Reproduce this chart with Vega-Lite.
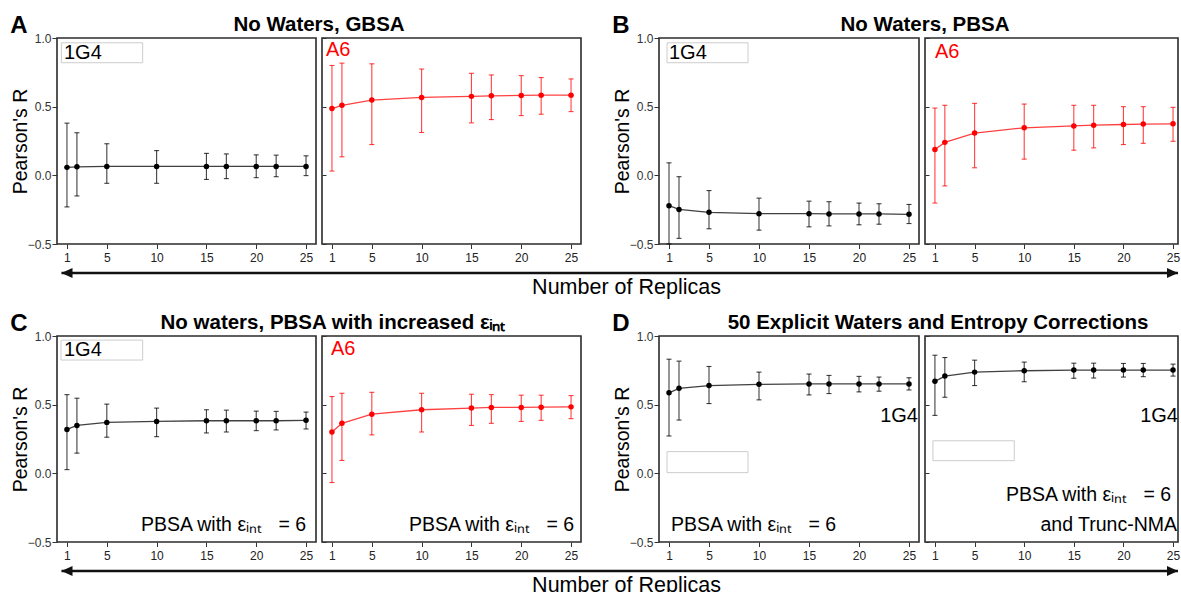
{
"$schema": "https://vega.github.io/schema/vega-lite/v6.json",
"padding": {"left": 9, "top": 13, "right": 0, "bottom": 0},
"background": "white",
"config": {
  "font": "Liberation Sans",
  "view": {"stroke": "#2b2b2b", "strokeWidth": 1.6},
  "axis": {"grid": false, "domain": false, "minExtent": 0},
  "title": {"color": "#000000", "font": "Liberation Sans"}
},
"datasets": {
  "series": [
    {"panel":"A1","strain":"1G4","x":1,"r":0.058,"lo":-0.23,"hi":0.38},
    {"panel":"A1","strain":"1G4","x":2,"r":0.062,"lo":-0.15,"hi":0.31},
    {"panel":"A1","strain":"1G4","x":5,"r":0.065,"lo":-0.058,"hi":0.23},
    {"panel":"A1","strain":"1G4","x":10,"r":0.065,"lo":-0.058,"hi":0.18},
    {"panel":"A1","strain":"1G4","x":15,"r":0.065,"lo":-0.03,"hi":0.16},
    {"panel":"A1","strain":"1G4","x":17,"r":0.065,"lo":-0.024,"hi":0.156},
    {"panel":"A1","strain":"1G4","x":20,"r":0.065,"lo":-0.017,"hi":0.149},
    {"panel":"A1","strain":"1G4","x":22,"r":0.065,"lo":-0.01,"hi":0.147},
    {"panel":"A1","strain":"1G4","x":25,"r":0.065,"lo":-0.002,"hi":0.142},
    {"panel":"A2","strain":"A6","x":1,"r":0.486,"lo":0.031,"hi":0.8},
    {"panel":"A2","strain":"A6","x":2,"r":0.51,"lo":0.135,"hi":0.817},
    {"panel":"A2","strain":"A6","x":5,"r":0.548,"lo":0.224,"hi":0.812},
    {"panel":"A2","strain":"A6","x":10,"r":0.567,"lo":0.312,"hi":0.774},
    {"panel":"A2","strain":"A6","x":15,"r":0.575,"lo":0.382,"hi":0.743},
    {"panel":"A2","strain":"A6","x":17,"r":0.579,"lo":0.406,"hi":0.731},
    {"panel":"A2","strain":"A6","x":20,"r":0.582,"lo":0.435,"hi":0.726},
    {"panel":"A2","strain":"A6","x":22,"r":0.584,"lo":0.445,"hi":0.712},
    {"panel":"A2","strain":"A6","x":25,"r":0.584,"lo":0.464,"hi":0.702},
    {"panel":"B1","strain":"1G4","x":1,"r":-0.221,"lo":-0.5,"hi":0.091},
    {"panel":"B1","strain":"1G4","x":2,"r":-0.248,"lo":-0.459,"hi":-0.01},
    {"panel":"B1","strain":"1G4","x":5,"r":-0.269,"lo":-0.389,"hi":-0.111},
    {"panel":"B1","strain":"1G4","x":10,"r":-0.279,"lo":-0.399,"hi":-0.166},
    {"panel":"B1","strain":"1G4","x":15,"r":-0.279,"lo":-0.375,"hi":-0.188},
    {"panel":"B1","strain":"1G4","x":17,"r":-0.281,"lo":-0.368,"hi":-0.192},
    {"panel":"B1","strain":"1G4","x":20,"r":-0.281,"lo":-0.36,"hi":-0.202},
    {"panel":"B1","strain":"1G4","x":22,"r":-0.281,"lo":-0.356,"hi":-0.207},
    {"panel":"B1","strain":"1G4","x":25,"r":-0.284,"lo":-0.351,"hi":-0.212},
    {"panel":"B2","strain":"A6","x":1,"r":0.188,"lo":-0.202,"hi":0.49},
    {"panel":"B2","strain":"A6","x":2,"r":0.24,"lo":-0.077,"hi":0.51},
    {"panel":"B2","strain":"A6","x":5,"r":0.308,"lo":0.055,"hi":0.524},
    {"panel":"B2","strain":"A6","x":10,"r":0.346,"lo":0.118,"hi":0.519},
    {"panel":"B2","strain":"A6","x":15,"r":0.36,"lo":0.183,"hi":0.51},
    {"panel":"B2","strain":"A6","x":17,"r":0.365,"lo":0.2,"hi":0.51},
    {"panel":"B2","strain":"A6","x":20,"r":0.37,"lo":0.224,"hi":0.5},
    {"panel":"B2","strain":"A6","x":22,"r":0.373,"lo":0.233,"hi":0.5},
    {"panel":"B2","strain":"A6","x":25,"r":0.375,"lo":0.248,"hi":0.495},
    {"panel":"C1","strain":"1G4","x":1,"r":0.32,"lo":0.027,"hi":0.573},
    {"panel":"C1","strain":"1G4","x":2,"r":0.349,"lo":0.147,"hi":0.547},
    {"panel":"C1","strain":"1G4","x":5,"r":0.371,"lo":0.263,"hi":0.504},
    {"panel":"C1","strain":"1G4","x":10,"r":0.378,"lo":0.267,"hi":0.475},
    {"panel":"C1","strain":"1G4","x":15,"r":0.383,"lo":0.294,"hi":0.463},
    {"panel":"C1","strain":"1G4","x":17,"r":0.383,"lo":0.301,"hi":0.46},
    {"panel":"C1","strain":"1G4","x":20,"r":0.383,"lo":0.311,"hi":0.453},
    {"panel":"C1","strain":"1G4","x":22,"r":0.383,"lo":0.316,"hi":0.451},
    {"panel":"C1","strain":"1G4","x":25,"r":0.386,"lo":0.323,"hi":0.446},
    {"panel":"C2","strain":"A6","x":1,"r":0.301,"lo":-0.067,"hi":0.559},
    {"panel":"C2","strain":"A6","x":2,"r":0.364,"lo":0.094,"hi":0.583},
    {"panel":"C2","strain":"A6","x":5,"r":0.431,"lo":0.28,"hi":0.59},
    {"panel":"C2","strain":"A6","x":10,"r":0.463,"lo":0.301,"hi":0.583},
    {"panel":"C2","strain":"A6","x":15,"r":0.475,"lo":0.349,"hi":0.576},
    {"panel":"C2","strain":"A6","x":17,"r":0.48,"lo":0.364,"hi":0.573},
    {"panel":"C2","strain":"A6","x":20,"r":0.48,"lo":0.378,"hi":0.569},
    {"panel":"C2","strain":"A6","x":22,"r":0.482,"lo":0.386,"hi":0.569},
    {"panel":"C2","strain":"A6","x":25,"r":0.484,"lo":0.398,"hi":0.566},
    {"panel":"D1","strain":"1G4","x":1,"r":0.586,"lo":0.272,"hi":0.831},
    {"panel":"D1","strain":"1G4","x":2,"r":0.619,"lo":0.388,"hi":0.817},
    {"panel":"D1","strain":"1G4","x":5,"r":0.639,"lo":0.508,"hi":0.778},
    {"panel":"D1","strain":"1G4","x":10,"r":0.648,"lo":0.535,"hi":0.737},
    {"panel":"D1","strain":"1G4","x":15,"r":0.651,"lo":0.571,"hi":0.723},
    {"panel":"D1","strain":"1G4","x":17,"r":0.651,"lo":0.581,"hi":0.713},
    {"panel":"D1","strain":"1G4","x":20,"r":0.651,"lo":0.593,"hi":0.706},
    {"panel":"D1","strain":"1G4","x":22,"r":0.651,"lo":0.598,"hi":0.701},
    {"panel":"D1","strain":"1G4","x":25,"r":0.651,"lo":0.607,"hi":0.696},
    {"panel":"D2","strain":"1G4","x":1,"r":0.67,"lo":0.422,"hi":0.86},
    {"panel":"D2","strain":"1G4","x":2,"r":0.708,"lo":0.554,"hi":0.843},
    {"panel":"D2","strain":"1G4","x":5,"r":0.737,"lo":0.639,"hi":0.824},
    {"panel":"D2","strain":"1G4","x":10,"r":0.747,"lo":0.667,"hi":0.81},
    {"panel":"D2","strain":"1G4","x":15,"r":0.752,"lo":0.692,"hi":0.802},
    {"panel":"D2","strain":"1G4","x":17,"r":0.752,"lo":0.694,"hi":0.802},
    {"panel":"D2","strain":"1G4","x":20,"r":0.752,"lo":0.701,"hi":0.8},
    {"panel":"D2","strain":"1G4","x":22,"r":0.752,"lo":0.704,"hi":0.8},
    {"panel":"D2","strain":"1G4","x":25,"r":0.752,"lo":0.708,"hi":0.795}
  ],
  "tags": [
    {"panel":"A1","strain":"1G4","text":"1G4","x":0.7,"y":0.894},
    {"panel":"A2","strain":"A6","text":"A6","x":0.4,"y":0.916},
    {"panel":"B1","strain":"1G4","text":"1G4","x":1.0,"y":0.894},
    {"panel":"B2","strain":"A6","text":"A6","x":1.0,"y":0.9},
    {"panel":"C1","strain":"1G4","text":"1G4","x":0.7,"y":0.898},
    {"panel":"C2","strain":"A6","text":"A6","x":0.9,"y":0.906},
    {"panel":"D1","strain":"1G4","text":"1G4","x":25.9,"y":0.414},
    {"panel":"D2","strain":"1G4","text":"1G4","x":25.5,"y":0.414}
  ],
  "methods": [
    {"panel":"C1","text":"PBSA with εᵢₙₜ\u00a0\u00a0 = 6","x":25,"y":-0.373},
    {"panel":"C2","text":"PBSA with εᵢₙₜ\u00a0\u00a0 = 6","x":25.3,"y":-0.373},
    {"panel":"D1","text":"PBSA with εᵢₙₜ\u00a0\u00a0 = 6","x":1.2,"y":-0.373},
    {"panel":"D2","text":"PBSA with εᵢₙₜ\u00a0\u00a0 = 6","x":24.8,"y":-0.155},
    {"panel":"D2","text":"and Trunc-NMA","x":25.4,"y":-0.373}
  ],
  "boxes": [
    {"panel":"A1","x1":0.44,"x2":8.6,"y1":0.82,"y2":0.965},
    {"panel":"B1","x1":0.8,"x2":8.9,"y1":0.82,"y2":0.965},
    {"panel":"C1","x1":0.4,"x2":8.6,"y1":0.825,"y2":0.97},
    {"panel":"D1","x1":0.8,"x2":8.9,"y1":0.005,"y2":0.158},
    {"panel":"D2","x1":0.8,"x2":9.0,"y1":0.092,"y2":0.237}
  ],
  "arrow": [
    {"part":"shaft","x":0.004,"x2":1,"y":0.5},
    {"part":"left","x":0.004,"y":0.5},
    {"part":"right","x":1,"y":0.5}
  ]
},
"spacing": 13,
"vconcat": [
 {"spacing": 3, "vconcat": [
  {"spacing": 6, "bounds": "flush", "hconcat": [
   {"width": 259, "height": 206,
    "title": {"text": "A", "anchor": "start", "frame": "bounds", "fontSize": 24, "fontWeight": "bold", "baseline": "alphabetic", "offset": -25},
    "layer": [
     {"data": {"name": "series"}, "transform": [{"filter": "datum.panel === 'A1'"}], "mark": {"type": "line", "strokeWidth": 1.3, "opacity": 0.75},
      "encoding": {
       "x": {"field": "x", "type": "quantitative", "scale": {"domain": [0, 26], "nice": false, "zero": false}, "axis": {"values": [1,3,5,7.5,10,12.5,15,17.5,20,22.5,25], "labelExpr": "indexof([1,5,10,15,20,25], datum.value) >= 0 ? datum.label : ''", "title": null, "tickSize": 4.5, "labelPadding": 4, "labelFontSize": 12, "labelColor": "#222222", "tickColor": "#333333", "labelOverlap": false, "labelFlush": false}},
       "y": {"field": "r", "type": "quantitative", "scale": {"domain": [-0.5, 1], "nice": false, "zero": false}, "axis": {"values": [-0.5, 0, 0.5, 1], "format": ".1f", "title": "Pearson's R", "titleFontSize": 19.5, "titleFontWeight": "normal", "titleColor": "#000000", "titlePadding": -3, "tickSize": 5, "labelPadding": 1, "labelFontSize": 12, "labelColor": "#333333", "tickColor": "#333333", "labelFlush": false, "labelOverlap": false}},
       "color": {"field": "strain", "type": "nominal", "scale": {"domain": ["1G4", "A6"], "range": ["#000000", "#ff0000"]}, "legend": null}}},
     {"data": {"name": "series"}, "transform": [{"filter": "datum.panel === 'A1'"}], "mark": {"type": "errorbar", "ticks": true, "size": 5, "thickness": 1.1, "opacity": 0.75},
      "encoding": {"x": {"field": "x", "type": "quantitative"}, "y": {"field": "lo", "type": "quantitative", "title": "Pearson's R"}, "y2": {"field": "hi"}, "color": {"field": "strain", "type": "nominal", "legend": null}}},
     {"data": {"name": "series"}, "transform": [{"filter": "datum.panel === 'A1'"}], "mark": {"type": "point", "filled": true, "size": 30, "opacity": 1},
      "encoding": {"x": {"field": "x", "type": "quantitative"}, "y": {"field": "r", "type": "quantitative"}, "color": {"field": "strain", "type": "nominal", "legend": null}}},
     {"data": {"name": "boxes"}, "transform": [{"filter": "datum.panel === 'A1'"}], "mark": {"type": "rect", "filled": false, "color": "#cccccc", "strokeWidth": 1},
      "encoding": {"x": {"field": "x1", "type": "quantitative"}, "x2": {"field": "x2"}, "y": {"field": "y1", "type": "quantitative"}, "y2": {"field": "y2"}}},
     {"data": {"name": "tags"}, "transform": [{"filter": "datum.panel === 'A1'"}], "mark": {"type": "text", "align": "left", "baseline": "middle", "fontSize": 20},
      "encoding": {"x": {"field": "x", "type": "quantitative"}, "y": {"field": "y", "type": "quantitative"}, "text": {"field": "text"}, "color": {"field": "strain", "type": "nominal", "legend": null}}}
    ]},
   {"width": 259, "height": 206,
    "title": {"text": "No Waters, GBSA", "anchor": "start", "align": "center", "frame": "group", "fontSize": 20.5, "fontWeight": "bold", "baseline": "alphabetic", "offset": -14, "dx": -3},
    "layer": [
     {"data": {"name": "series"}, "transform": [{"filter": "datum.panel === 'A2'"}], "mark": {"type": "line", "strokeWidth": 1.3, "opacity": 0.75},
      "encoding": {
       "x": {"field": "x", "type": "quantitative", "scale": {"domain": [0, 26], "nice": false, "zero": false}, "axis": {"values": [1,3,5,7.5,10,12.5,15,17.5,20,22.5,25], "labelExpr": "indexof([1,5,10,15,20,25], datum.value) >= 0 ? datum.label : ''", "title": null, "tickSize": 4.5, "labelPadding": 4, "labelFontSize": 12, "labelColor": "#222222", "tickColor": "#333333", "labelOverlap": false, "labelFlush": false}},
       "y": {"field": "r", "type": "quantitative", "scale": {"domain": [-0.5, 1], "nice": false, "zero": false}, "axis": {"values": [-0.5, 0, 0.5, 1], "labels": false, "title": null, "tickSize": -4, "tickColor": "#333333"}},
       "color": {"field": "strain", "type": "nominal", "scale": {"domain": ["1G4", "A6"], "range": ["#000000", "#ff0000"]}, "legend": null}}},
     {"data": {"name": "series"}, "transform": [{"filter": "datum.panel === 'A2'"}], "mark": {"type": "errorbar", "ticks": true, "size": 5, "thickness": 1.1, "opacity": 0.75},
      "encoding": {"x": {"field": "x", "type": "quantitative"}, "y": {"field": "lo", "type": "quantitative"}, "y2": {"field": "hi"}, "color": {"field": "strain", "type": "nominal", "legend": null}}},
     {"data": {"name": "series"}, "transform": [{"filter": "datum.panel === 'A2'"}], "mark": {"type": "point", "filled": true, "size": 30, "opacity": 1},
      "encoding": {"x": {"field": "x", "type": "quantitative"}, "y": {"field": "r", "type": "quantitative"}, "color": {"field": "strain", "type": "nominal", "legend": null}}},
     {"data": {"name": "tags"}, "transform": [{"filter": "datum.panel === 'A2'"}], "mark": {"type": "text", "align": "left", "baseline": "middle", "fontSize": 20},
      "encoding": {"x": {"field": "x", "type": "quantitative"}, "y": {"field": "y", "type": "quantitative"}, "text": {"field": "text"}, "color": {"field": "strain", "type": "nominal", "legend": null}}}
    ]},
   {"width": 66, "height": 206, "view": {"stroke": null}, "data": {"values": [{}]}, "mark": {"type": "point", "opacity": 0}},
   {"width": 260, "height": 206,
    "title": {"text": "B", "anchor": "start", "frame": "bounds", "fontSize": 24, "fontWeight": "bold", "baseline": "alphabetic", "offset": -25},
    "layer": [
     {"data": {"name": "series"}, "transform": [{"filter": "datum.panel === 'B1'"}], "mark": {"type": "line", "strokeWidth": 1.3, "opacity": 0.75},
      "encoding": {
       "x": {"field": "x", "type": "quantitative", "scale": {"domain": [0, 26], "nice": false, "zero": false}, "axis": {"values": [1,3,5,7.5,10,12.5,15,17.5,20,22.5,25], "labelExpr": "indexof([1,5,10,15,20,25], datum.value) >= 0 ? datum.label : ''", "title": null, "tickSize": 4.5, "labelPadding": 4, "labelFontSize": 12, "labelColor": "#222222", "tickColor": "#333333", "labelOverlap": false, "labelFlush": false}},
       "y": {"field": "r", "type": "quantitative", "scale": {"domain": [-0.5, 1], "nice": false, "zero": false}, "axis": {"values": [-0.5, 0, 0.5, 1], "format": ".1f", "title": "Pearson's R", "titleFontSize": 19.5, "titleFontWeight": "normal", "titleColor": "#000000", "titlePadding": -3, "tickSize": 5, "labelPadding": 1, "labelFontSize": 12, "labelColor": "#333333", "tickColor": "#333333", "labelFlush": false, "labelOverlap": false}},
       "color": {"field": "strain", "type": "nominal", "scale": {"domain": ["1G4", "A6"], "range": ["#000000", "#ff0000"]}, "legend": null}}},
     {"data": {"name": "series"}, "transform": [{"filter": "datum.panel === 'B1'"}], "mark": {"type": "errorbar", "ticks": true, "size": 5, "thickness": 1.1, "opacity": 0.75},
      "encoding": {"x": {"field": "x", "type": "quantitative"}, "y": {"field": "lo", "type": "quantitative", "title": "Pearson's R"}, "y2": {"field": "hi"}, "color": {"field": "strain", "type": "nominal", "legend": null}}},
     {"data": {"name": "series"}, "transform": [{"filter": "datum.panel === 'B1'"}], "mark": {"type": "point", "filled": true, "size": 30, "opacity": 1},
      "encoding": {"x": {"field": "x", "type": "quantitative"}, "y": {"field": "r", "type": "quantitative"}, "color": {"field": "strain", "type": "nominal", "legend": null}}},
     {"data": {"name": "boxes"}, "transform": [{"filter": "datum.panel === 'B1'"}], "mark": {"type": "rect", "filled": false, "color": "#cccccc", "strokeWidth": 1},
      "encoding": {"x": {"field": "x1", "type": "quantitative"}, "x2": {"field": "x2"}, "y": {"field": "y1", "type": "quantitative"}, "y2": {"field": "y2"}}},
     {"data": {"name": "tags"}, "transform": [{"filter": "datum.panel === 'B1'"}], "mark": {"type": "text", "align": "left", "baseline": "middle", "fontSize": 20},
      "encoding": {"x": {"field": "x", "type": "quantitative"}, "y": {"field": "y", "type": "quantitative"}, "text": {"field": "text"}, "color": {"field": "strain", "type": "nominal", "legend": null}}}
    ]},
   {"width": 253, "height": 206,
    "title": {"text": "No Waters, PBSA", "anchor": "start", "align": "center", "frame": "group", "fontSize": 20.5, "fontWeight": "bold", "baseline": "alphabetic", "offset": -14},
    "layer": [
     {"data": {"name": "series"}, "transform": [{"filter": "datum.panel === 'B2'"}], "mark": {"type": "line", "strokeWidth": 1.3, "opacity": 0.75},
      "encoding": {
       "x": {"field": "x", "type": "quantitative", "scale": {"domain": [0, 25.5], "nice": false, "zero": false}, "axis": {"values": [1,3,5,7.5,10,12.5,15,17.5,20,22.5,25], "labelExpr": "indexof([1,5,10,15,20,25], datum.value) >= 0 ? datum.label : ''", "title": null, "tickSize": 4.5, "labelPadding": 4, "labelFontSize": 12, "labelColor": "#222222", "tickColor": "#333333", "labelOverlap": false, "labelFlush": false}},
       "y": {"field": "r", "type": "quantitative", "scale": {"domain": [-0.5, 1], "nice": false, "zero": false}, "axis": {"values": [-0.5, 0, 0.5, 1], "labels": false, "title": null, "tickSize": -4, "tickColor": "#333333"}},
       "color": {"field": "strain", "type": "nominal", "scale": {"domain": ["1G4", "A6"], "range": ["#000000", "#ff0000"]}, "legend": null}}},
     {"data": {"name": "series"}, "transform": [{"filter": "datum.panel === 'B2'"}], "mark": {"type": "errorbar", "ticks": true, "size": 5, "thickness": 1.1, "opacity": 0.75},
      "encoding": {"x": {"field": "x", "type": "quantitative"}, "y": {"field": "lo", "type": "quantitative"}, "y2": {"field": "hi"}, "color": {"field": "strain", "type": "nominal", "legend": null}}},
     {"data": {"name": "series"}, "transform": [{"filter": "datum.panel === 'B2'"}], "mark": {"type": "point", "filled": true, "size": 30, "opacity": 1},
      "encoding": {"x": {"field": "x", "type": "quantitative"}, "y": {"field": "r", "type": "quantitative"}, "color": {"field": "strain", "type": "nominal", "legend": null}}},
     {"data": {"name": "tags"}, "transform": [{"filter": "datum.panel === 'B2'"}], "mark": {"type": "text", "align": "left", "baseline": "middle", "fontSize": 20},
      "encoding": {"x": {"field": "x", "type": "quantitative"}, "y": {"field": "y", "type": "quantitative"}, "text": {"field": "text"}, "color": {"field": "strain", "type": "nominal", "legend": null}}}
    ]}
  ]},
  {"width": 1121, "height": 10, "view": {"stroke": null}, "data": {"name": "arrow"},
   "layer": [
    {"transform": [{"filter": "datum.part === 'shaft'"}], "mark": {"type": "rule", "strokeWidth": 2.6, "color": "#111111"},
     "encoding": {
      "x": {"field": "x", "type": "quantitative", "scale": {"domain": [0, 1], "nice": false, "zero": false}, "axis": {"title": "Number of Replicas", "titleFontSize": 21.5, "titleFontWeight": "normal", "titleColor": "#000000", "titlePadding": -2, "titleX": 569, "labels": false, "ticks": false, "domain": false}},
      "x2": {"field": "x2"},
      "y": {"field": "y", "type": "quantitative", "scale": {"domain": [0, 1], "nice": false, "zero": false}, "axis": {"values": [0], "labelExpr": "'-0.5'", "title": "I", "titleFontSize": 19.5, "titleFontWeight": "normal", "titlePadding": -3, "tickSize": 5, "labelPadding": 1, "labelFontSize": 12, "tickColor": "transparent", "labelColor": "transparent", "titleColor": "transparent", "labelFlush": false}}}},
    {"transform": [{"filter": "datum.part !== 'shaft'"}], "mark": {"type": "point", "filled": true, "size": 121, "opacity": 1, "color": "#111111"},
     "encoding": {
      "x": {"field": "x", "type": "quantitative"},
      "y": {"field": "y", "type": "quantitative"},
      "shape": {"field": "part", "type": "nominal", "scale": {"domain": ["left", "right"], "range": ["M0,0L2,-0.9L2,0.9Z", "M0,0L-2,-0.9L-2,0.9Z"]}, "legend": null}}}
   ]}
 ]},
 {"spacing": 3, "vconcat": [
  {"spacing": 6, "bounds": "flush", "hconcat": [
   {"width": 259, "height": 206,
    "title": {"text": "C", "anchor": "start", "frame": "bounds", "fontSize": 24, "fontWeight": "bold", "baseline": "alphabetic", "offset": -25},
    "layer": [
     {"data": {"name": "series"}, "transform": [{"filter": "datum.panel === 'C1'"}], "mark": {"type": "line", "strokeWidth": 1.3, "opacity": 0.75},
      "encoding": {
       "x": {"field": "x", "type": "quantitative", "scale": {"domain": [0, 26], "nice": false, "zero": false}, "axis": {"values": [1,3,5,7.5,10,12.5,15,17.5,20,22.5,25], "labelExpr": "indexof([1,5,10,15,20,25], datum.value) >= 0 ? datum.label : ''", "title": null, "tickSize": 4.5, "labelPadding": 4, "labelFontSize": 12, "labelColor": "#222222", "tickColor": "#333333", "labelOverlap": false, "labelFlush": false}},
       "y": {"field": "r", "type": "quantitative", "scale": {"domain": [-0.5, 1], "nice": false, "zero": false}, "axis": {"values": [-0.5, 0, 0.5, 1], "format": ".1f", "title": "Pearson's R", "titleFontSize": 19.5, "titleFontWeight": "normal", "titleColor": "#000000", "titlePadding": -3, "tickSize": 5, "labelPadding": 1, "labelFontSize": 12, "labelColor": "#333333", "tickColor": "#333333", "labelFlush": false, "labelOverlap": false}},
       "color": {"field": "strain", "type": "nominal", "scale": {"domain": ["1G4", "A6"], "range": ["#000000", "#ff0000"]}, "legend": null}}},
     {"data": {"name": "series"}, "transform": [{"filter": "datum.panel === 'C1'"}], "mark": {"type": "errorbar", "ticks": true, "size": 5, "thickness": 1.1, "opacity": 0.75},
      "encoding": {"x": {"field": "x", "type": "quantitative"}, "y": {"field": "lo", "type": "quantitative", "title": "Pearson's R"}, "y2": {"field": "hi"}, "color": {"field": "strain", "type": "nominal", "legend": null}}},
     {"data": {"name": "series"}, "transform": [{"filter": "datum.panel === 'C1'"}], "mark": {"type": "point", "filled": true, "size": 30, "opacity": 1},
      "encoding": {"x": {"field": "x", "type": "quantitative"}, "y": {"field": "r", "type": "quantitative"}, "color": {"field": "strain", "type": "nominal", "legend": null}}},
     {"data": {"name": "boxes"}, "transform": [{"filter": "datum.panel === 'C1'"}], "mark": {"type": "rect", "filled": false, "color": "#cccccc", "strokeWidth": 1},
      "encoding": {"x": {"field": "x1", "type": "quantitative"}, "x2": {"field": "x2"}, "y": {"field": "y1", "type": "quantitative"}, "y2": {"field": "y2"}}},
     {"data": {"name": "tags"}, "transform": [{"filter": "datum.panel === 'C1'"}], "mark": {"type": "text", "align": "left", "baseline": "middle", "fontSize": 20},
      "encoding": {"x": {"field": "x", "type": "quantitative"}, "y": {"field": "y", "type": "quantitative"}, "text": {"field": "text"}, "color": {"field": "strain", "type": "nominal", "legend": null}}},
     {"data": {"name": "methods"}, "transform": [{"filter": "datum.panel === 'C1'"}], "mark": {"type": "text", "align": "right", "baseline": "middle", "fontSize": 19.5, "color": "#000000"},
      "encoding": {"x": {"field": "x", "type": "quantitative"}, "y": {"field": "y", "type": "quantitative"}, "text": {"field": "text"}}}
    ]},
   {"width": 259, "height": 206,
    "title": {"text": "No waters, PBSA with increased εᵢₙₜ", "anchor": "start", "align": "center", "frame": "group", "fontSize": 20.5, "fontWeight": "bold", "baseline": "alphabetic", "offset": -14, "dx": 11},
    "layer": [
     {"data": {"name": "series"}, "transform": [{"filter": "datum.panel === 'C2'"}], "mark": {"type": "line", "strokeWidth": 1.3, "opacity": 0.75},
      "encoding": {
       "x": {"field": "x", "type": "quantitative", "scale": {"domain": [0, 26], "nice": false, "zero": false}, "axis": {"values": [1,3,5,7.5,10,12.5,15,17.5,20,22.5,25], "labelExpr": "indexof([1,5,10,15,20,25], datum.value) >= 0 ? datum.label : ''", "title": null, "tickSize": 4.5, "labelPadding": 4, "labelFontSize": 12, "labelColor": "#222222", "tickColor": "#333333", "labelOverlap": false, "labelFlush": false}},
       "y": {"field": "r", "type": "quantitative", "scale": {"domain": [-0.5, 1], "nice": false, "zero": false}, "axis": {"values": [-0.5, 0, 0.5, 1], "labels": false, "title": null, "tickSize": -4, "tickColor": "#333333"}},
       "color": {"field": "strain", "type": "nominal", "scale": {"domain": ["1G4", "A6"], "range": ["#000000", "#ff0000"]}, "legend": null}}},
     {"data": {"name": "series"}, "transform": [{"filter": "datum.panel === 'C2'"}], "mark": {"type": "errorbar", "ticks": true, "size": 5, "thickness": 1.1, "opacity": 0.75},
      "encoding": {"x": {"field": "x", "type": "quantitative"}, "y": {"field": "lo", "type": "quantitative"}, "y2": {"field": "hi"}, "color": {"field": "strain", "type": "nominal", "legend": null}}},
     {"data": {"name": "series"}, "transform": [{"filter": "datum.panel === 'C2'"}], "mark": {"type": "point", "filled": true, "size": 30, "opacity": 1},
      "encoding": {"x": {"field": "x", "type": "quantitative"}, "y": {"field": "r", "type": "quantitative"}, "color": {"field": "strain", "type": "nominal", "legend": null}}},
     {"data": {"name": "tags"}, "transform": [{"filter": "datum.panel === 'C2'"}], "mark": {"type": "text", "align": "left", "baseline": "middle", "fontSize": 20},
      "encoding": {"x": {"field": "x", "type": "quantitative"}, "y": {"field": "y", "type": "quantitative"}, "text": {"field": "text"}, "color": {"field": "strain", "type": "nominal", "legend": null}}},
     {"data": {"name": "methods"}, "transform": [{"filter": "datum.panel === 'C2'"}], "mark": {"type": "text", "align": "right", "baseline": "middle", "fontSize": 19.5, "color": "#000000"},
      "encoding": {"x": {"field": "x", "type": "quantitative"}, "y": {"field": "y", "type": "quantitative"}, "text": {"field": "text"}}}
    ]},
   {"width": 66, "height": 206, "view": {"stroke": null}, "data": {"values": [{}]}, "mark": {"type": "point", "opacity": 0}},
   {"width": 260, "height": 206,
    "title": {"text": "D", "anchor": "start", "frame": "bounds", "fontSize": 24, "fontWeight": "bold", "baseline": "alphabetic", "offset": -25},
    "layer": [
     {"data": {"name": "series"}, "transform": [{"filter": "datum.panel === 'D1'"}], "mark": {"type": "line", "strokeWidth": 1.3, "opacity": 0.75},
      "encoding": {
       "x": {"field": "x", "type": "quantitative", "scale": {"domain": [0, 26], "nice": false, "zero": false}, "axis": {"values": [1,3,5,7.5,10,12.5,15,17.5,20,22.5,25], "labelExpr": "indexof([1,5,10,15,20,25], datum.value) >= 0 ? datum.label : ''", "title": null, "tickSize": 4.5, "labelPadding": 4, "labelFontSize": 12, "labelColor": "#222222", "tickColor": "#333333", "labelOverlap": false, "labelFlush": false}},
       "y": {"field": "r", "type": "quantitative", "scale": {"domain": [-0.5, 1], "nice": false, "zero": false}, "axis": {"values": [-0.5, 0, 0.5, 1], "format": ".1f", "title": "Pearson's R", "titleFontSize": 19.5, "titleFontWeight": "normal", "titleColor": "#000000", "titlePadding": -3, "tickSize": 5, "labelPadding": 1, "labelFontSize": 12, "labelColor": "#333333", "tickColor": "#333333", "labelFlush": false, "labelOverlap": false}},
       "color": {"field": "strain", "type": "nominal", "scale": {"domain": ["1G4", "A6"], "range": ["#000000", "#ff0000"]}, "legend": null}}},
     {"data": {"name": "series"}, "transform": [{"filter": "datum.panel === 'D1'"}], "mark": {"type": "errorbar", "ticks": true, "size": 5, "thickness": 1.1, "opacity": 0.75},
      "encoding": {"x": {"field": "x", "type": "quantitative"}, "y": {"field": "lo", "type": "quantitative", "title": "Pearson's R"}, "y2": {"field": "hi"}, "color": {"field": "strain", "type": "nominal", "legend": null}}},
     {"data": {"name": "series"}, "transform": [{"filter": "datum.panel === 'D1'"}], "mark": {"type": "point", "filled": true, "size": 30, "opacity": 1},
      "encoding": {"x": {"field": "x", "type": "quantitative"}, "y": {"field": "r", "type": "quantitative"}, "color": {"field": "strain", "type": "nominal", "legend": null}}},
     {"data": {"name": "boxes"}, "transform": [{"filter": "datum.panel === 'D1'"}], "mark": {"type": "rect", "filled": false, "color": "#cccccc", "strokeWidth": 1},
      "encoding": {"x": {"field": "x1", "type": "quantitative"}, "x2": {"field": "x2"}, "y": {"field": "y1", "type": "quantitative"}, "y2": {"field": "y2"}}},
     {"data": {"name": "tags"}, "transform": [{"filter": "datum.panel === 'D1'"}], "mark": {"type": "text", "align": "right", "baseline": "middle", "fontSize": 20},
      "encoding": {"x": {"field": "x", "type": "quantitative"}, "y": {"field": "y", "type": "quantitative"}, "text": {"field": "text"}, "color": {"field": "strain", "type": "nominal", "legend": null}}},
     {"data": {"name": "methods"}, "transform": [{"filter": "datum.panel === 'D1'"}], "mark": {"type": "text", "align": "left", "baseline": "middle", "fontSize": 19.5, "color": "#000000"},
      "encoding": {"x": {"field": "x", "type": "quantitative"}, "y": {"field": "y", "type": "quantitative"}, "text": {"field": "text"}}}
    ]},
   {"width": 253, "height": 206,
    "title": {"text": "50 Explicit Waters and Entropy Corrections", "anchor": "start", "align": "center", "frame": "group", "fontSize": 20.5, "fontWeight": "bold", "baseline": "alphabetic", "offset": -14, "dx": 13},
    "layer": [
     {"data": {"name": "series"}, "transform": [{"filter": "datum.panel === 'D2'"}], "mark": {"type": "line", "strokeWidth": 1.3, "opacity": 0.75},
      "encoding": {
       "x": {"field": "x", "type": "quantitative", "scale": {"domain": [0, 25.5], "nice": false, "zero": false}, "axis": {"values": [1,3,5,7.5,10,12.5,15,17.5,20,22.5,25], "labelExpr": "indexof([1,5,10,15,20,25], datum.value) >= 0 ? datum.label : ''", "title": null, "tickSize": 4.5, "labelPadding": 4, "labelFontSize": 12, "labelColor": "#222222", "tickColor": "#333333", "labelOverlap": false, "labelFlush": false}},
       "y": {"field": "r", "type": "quantitative", "scale": {"domain": [-0.5, 1], "nice": false, "zero": false}, "axis": {"values": [-0.5, 0, 0.5, 1], "labels": false, "title": null, "tickSize": -4, "tickColor": "#333333"}},
       "color": {"field": "strain", "type": "nominal", "scale": {"domain": ["1G4", "A6"], "range": ["#000000", "#ff0000"]}, "legend": null}}},
     {"data": {"name": "series"}, "transform": [{"filter": "datum.panel === 'D2'"}], "mark": {"type": "errorbar", "ticks": true, "size": 5, "thickness": 1.1, "opacity": 0.75},
      "encoding": {"x": {"field": "x", "type": "quantitative"}, "y": {"field": "lo", "type": "quantitative"}, "y2": {"field": "hi"}, "color": {"field": "strain", "type": "nominal", "legend": null}}},
     {"data": {"name": "series"}, "transform": [{"filter": "datum.panel === 'D2'"}], "mark": {"type": "point", "filled": true, "size": 30, "opacity": 1},
      "encoding": {"x": {"field": "x", "type": "quantitative"}, "y": {"field": "r", "type": "quantitative"}, "color": {"field": "strain", "type": "nominal", "legend": null}}},
     {"data": {"name": "boxes"}, "transform": [{"filter": "datum.panel === 'D2'"}], "mark": {"type": "rect", "filled": false, "color": "#cccccc", "strokeWidth": 1},
      "encoding": {"x": {"field": "x1", "type": "quantitative"}, "x2": {"field": "x2"}, "y": {"field": "y1", "type": "quantitative"}, "y2": {"field": "y2"}}},
     {"data": {"name": "tags"}, "transform": [{"filter": "datum.panel === 'D2'"}], "mark": {"type": "text", "align": "right", "baseline": "middle", "fontSize": 20},
      "encoding": {"x": {"field": "x", "type": "quantitative"}, "y": {"field": "y", "type": "quantitative"}, "text": {"field": "text"}, "color": {"field": "strain", "type": "nominal", "legend": null}}},
     {"data": {"name": "methods"}, "transform": [{"filter": "datum.panel === 'D2'"}], "mark": {"type": "text", "align": "right", "baseline": "middle", "fontSize": 19.5, "color": "#000000"},
      "encoding": {"x": {"field": "x", "type": "quantitative"}, "y": {"field": "y", "type": "quantitative"}, "text": {"field": "text"}}}
    ]}
  ]},
  {"width": 1121, "height": 10, "view": {"stroke": null}, "data": {"name": "arrow"},
   "layer": [
    {"transform": [{"filter": "datum.part === 'shaft'"}], "mark": {"type": "rule", "strokeWidth": 2.6, "color": "#111111"},
     "encoding": {
      "x": {"field": "x", "type": "quantitative", "scale": {"domain": [0, 1], "nice": false, "zero": false}, "axis": {"title": "Number of Replicas", "titleFontSize": 21.5, "titleFontWeight": "normal", "titleColor": "#000000", "titlePadding": -2, "titleX": 569, "labels": false, "ticks": false, "domain": false}},
      "x2": {"field": "x2"},
      "y": {"field": "y", "type": "quantitative", "scale": {"domain": [0, 1], "nice": false, "zero": false}, "axis": {"values": [0], "labelExpr": "'-0.5'", "title": "I", "titleFontSize": 19.5, "titleFontWeight": "normal", "titlePadding": -3, "tickSize": 5, "labelPadding": 1, "labelFontSize": 12, "tickColor": "transparent", "labelColor": "transparent", "titleColor": "transparent", "labelFlush": false}}}},
    {"transform": [{"filter": "datum.part !== 'shaft'"}], "mark": {"type": "point", "filled": true, "size": 121, "opacity": 1, "color": "#111111"},
     "encoding": {
      "x": {"field": "x", "type": "quantitative"},
      "y": {"field": "y", "type": "quantitative"},
      "shape": {"field": "part", "type": "nominal", "scale": {"domain": ["left", "right"], "range": ["M0,0L2,-0.9L2,0.9Z", "M0,0L-2,-0.9L-2,0.9Z"]}, "legend": null}}}
   ]}
 ]}
]
}
